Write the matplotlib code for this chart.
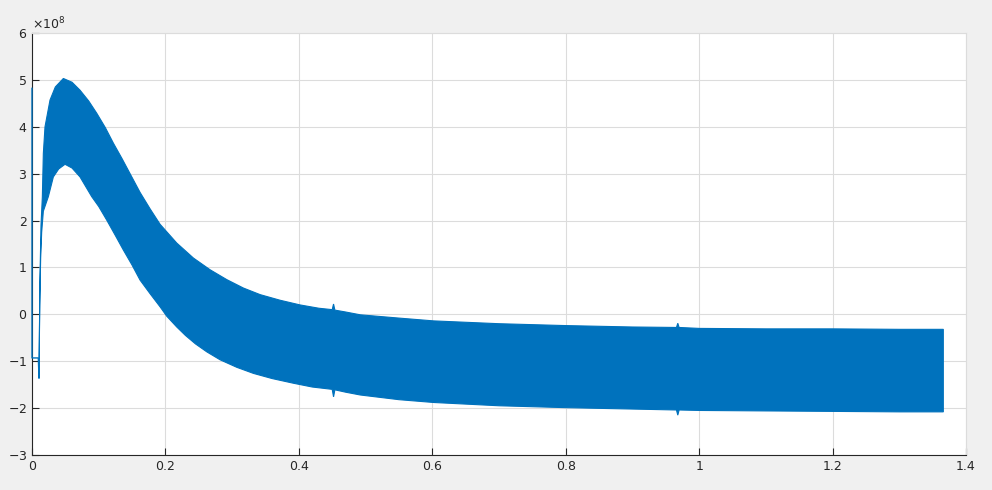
import matplotlib.pyplot as plt

plt.rcParams['axes.unicode_minus'] = False
plt.rcParams['font.family'] = ['DejaVu Sans']

# lead-in trace before the oscillation starts
start_t = [0.0, 0.0, 0.0095, 0.0105]
start_v = [4.82e8, -0.93e8, -0.93e8, -1.36e8]

# envelope of the oscillating signal
upper_t = [0.0105, 0.012, 0.0135, 0.0155, 0.017, 0.0195, 0.027, 0.035, 0.047, 0.06, 0.072,
           0.085, 0.097, 0.11, 0.122, 0.135, 0.147, 0.162, 0.177, 0.192, 0.217, 0.242, 0.267,
           0.292, 0.317, 0.342, 0.372, 0.402, 0.43, 0.450, 0.452, 0.454, 0.47, 0.492, 0.55,
           0.602, 0.7, 0.8, 0.9, 0.966, 0.968, 0.970, 1.0, 1.1, 1.2, 1.3, 1.366]
upper_v = [-1.36e8, 0.8e8, 1.9e8, 2.5e8, 3.43e8, 4.0e8, 4.57e8, 4.85e8, 5.03e8, 4.95e8, 4.78e8,
           4.55e8, 4.29e8, 3.98e8, 3.65e8, 3.32e8, 3.0e8, 2.6e8, 2.25e8, 1.92e8, 1.52e8, 1.2e8, 0.95e8,
           0.74e8, 0.56e8, 0.42e8, 0.3e8, 0.2e8, 0.13e8, 0.1e8, 0.22e8, 0.09e8, 0.05e8, -0.01e8, -0.08e8,
           -0.14e8, -0.2e8, -0.24e8, -0.27e8, -0.28e8, -0.19e8, -0.28e8, -0.3e8, -0.31e8, -0.31e8, -0.32e8, -0.32e8]

lower_t = [0.0105, 0.0115, 0.013, 0.0145, 0.017, 0.0245, 0.032, 0.04, 0.0495, 0.06, 0.072,
           0.0895, 0.1, 0.112, 0.125, 0.137, 0.15, 0.162, 0.177, 0.192, 0.202, 0.217, 0.23,
           0.245, 0.262, 0.282, 0.307, 0.332, 0.36, 0.392, 0.42, 0.450, 0.452, 0.454, 0.47, 0.492,
           0.55, 0.602, 0.7, 0.8, 0.9, 0.966, 0.968, 0.970, 1.0, 1.1, 1.2, 1.3, 1.366]
lower_v = [-1.36e8, 0.2e8, 1.2e8, 1.75e8, 2.2e8, 2.51e8, 2.93e8, 3.1e8, 3.2e8, 3.12e8, 2.93e8,
           2.51e8, 2.3e8, 2.01e8, 1.68e8, 1.37e8, 1.05e8, 0.73e8, 0.44e8, 0.16e8, -0.04e8, -0.27e8, -0.45e8,
           -0.63e8, -0.8e8, -0.97e8, -1.13e8, -1.26e8, -1.37e8, -1.47e8, -1.55e8, -1.6e8, -1.76e8, -1.61e8, -1.66e8, -1.72e8,
           -1.82e8, -1.88e8, -1.95e8, -1.99e8, -2.02e8, -2.04e8, -2.15e8, -2.04e8, -2.05e8, -2.06e8, -2.07e8, -2.08e8, -2.08e8]

blue = '#0072BD'
fig = plt.figure(figsize=(9.92, 4.9), dpi=100, facecolor='#f0f0f0')
ax = fig.add_axes([32 / 992, 35 / 490, 934 / 992, 422 / 490])

ax.fill(upper_t + lower_t[::-1], upper_v + lower_v[::-1], color=blue, lw=0.8, ec=blue)
ax.plot(start_t, start_v, color=blue, lw=1, clip_on=False, zorder=4)

ax.set_xlim(0, 1.4)
ax.set_ylim(-3e8, 6e8)
ax.set_xticks([0, 0.2, 0.4, 0.6, 0.8, 1.0, 1.2, 1.4])
ax.set_xticklabels(['0', '0.2', '0.4', '0.6', '0.8', '1', '1.2', '1.4'])
ax.set_yticks([i * 1e8 for i in range(-3, 7)])
ax.ticklabel_format(axis='y', style='sci', scilimits=(8, 8), useMathText=True)
ax.yaxis.get_offset_text().set_fontsize(9)
ax.yaxis.get_offset_text().set_color('#262626')

ax.grid(True, color='#dcdcdc', lw=0.8)
ax.set_axisbelow(True)
ax.tick_params(direction='in', length=5, labelsize=9, colors='#262626', width=0.8)
for s in ['top', 'right']:
    ax.spines[s].set_color('#dcdcdc')
for s in ['left', 'bottom']:
    ax.spines[s].set_color('#262626')
    ax.spines[s].set_linewidth(0.8)

fig.savefig('out.png', dpi=100, facecolor=fig.get_facecolor())
